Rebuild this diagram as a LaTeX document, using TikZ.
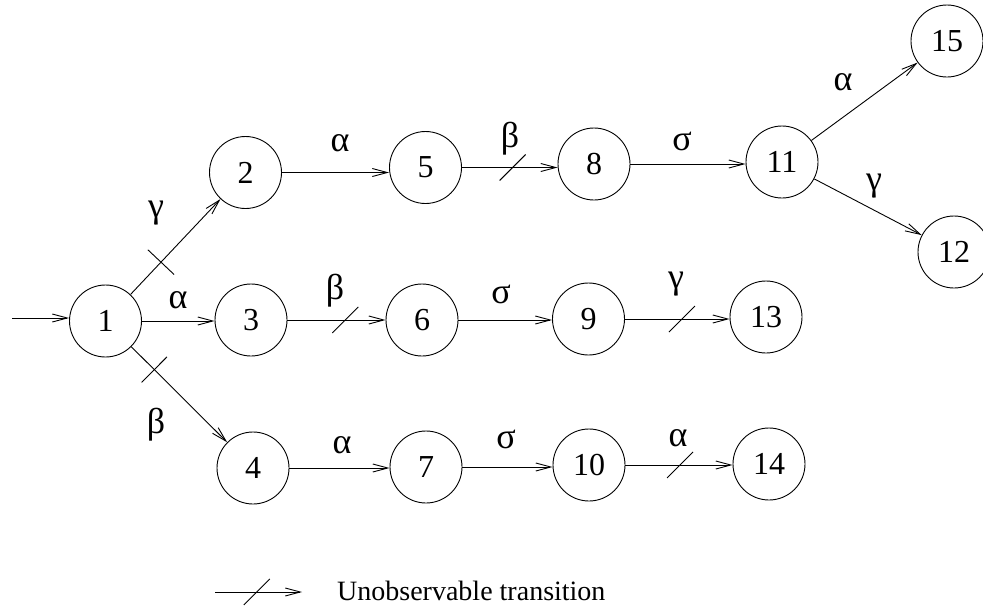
\documentclass[tikz,border=0pt]{standalone}
\usepackage{fontspec}
\setmainfont{Liberation Serif}
\usetikzlibrary{arrows.meta,decorations.markings}
\begin{document}
\begin{tikzpicture}[x=1pt,y=-1pt,
  state/.style={draw, circle, minimum size=72pt, inner sep=0pt, line width=0.9pt, font=\fontsize{32}{36}\selectfont},
  lbl/.style={inner sep=0pt, font=\fontsize{36}{40}\selectfont},
  trans/.style={draw, line width=0.9pt, -{Straight Barb[length=15pt,width=8pt]}},
  unobs/.style={postaction={decorate}, decoration={markings, mark=at position #1 with {\draw[-,line width=0.9pt] (-13pt,-13pt) -- (13pt,13pt);}}},
  unobsp/.style={postaction={decorate}, decoration={markings, mark=at position #1 with {\draw[-,line width=0.9pt] (0pt,-18pt) -- (0pt,18pt);}}}
]
\useasboundingbox (0,0) rectangle (983,611);

% states
\node[state] (n1) at (105.5,321) {1};
\node[state] (n2) at (245.5,172.5) {2};
\node[state] (n3) at (251,320) {3};
\node[state] (n4) at (253,468) {4};
\node[state] (n5) at (425.5,167.5) {5};
\node[state] (n6) at (422,320) {6};
\node[state] (n7) at (426,467) {7};
\node[state] (n8) at (594,164) {8};
\node[state] (n9) at (588.5,319) {9};
\node[state] (n10) at (589,465) {10};
\node[state] (n11) at (782,162) {11};
\node[state] (n12) at (954,252) {12};
\node[state] (n13) at (766,317) {13};
\node[state] (n14) at (769,464) {14};
\node[state] (n15) at (947,41) {15};

% initial arrow
\coordinate (init) at (12,318);
\draw[trans] (init) -- (n1.west |- init);

% transitions
\draw[trans, unobsp=0.34] (n1) -- (n2);
\draw[trans] (n1.east) -- (n3.west |- n1.east);
\draw[trans, unobsp=0.24] (n1) -- (n4);
\draw[trans] (n2.east) -- (n5.west |- n2.east);
\draw[trans, unobs=0.59] (n3.east) -- (n6.west |- n3.east);
\draw[trans] (n4.east) -- (n7.west |- n4.east);
\draw[trans, unobs=0.53] (n5.east) -- (n8.west |- n5.east);
\draw[trans] (n6.east) -- (n9.west |- n6.east);
\draw[trans] (n7.east) -- (n10.west |- n7.east);
\draw[trans] (n8.east) -- (n11.west |- n8.east);
\draw[trans, unobs=0.545] (n9.east) -- (n13.west |- n9.east);
\draw[trans, unobs=0.51] (n10.east) -- (n14.west |- n10.east);
\draw[trans] (n11) -- (n15);
\draw[trans] (n11) -- (n12);

% labels
\node[lbl] (l12) at (156,213) {γ};
\node[lbl] (l13) at (178,300) {α};
\node[lbl] (l14) at (156,425) {β};
\node[lbl] (l25) at (340,143) {α};
\node[lbl] (l58) at (510,139) {β};
\node[lbl] (l811) at (682,141) {σ};
\node[lbl] (l1115) at (843,82) {α};
\node[lbl] (l1112) at (874,186) {γ};
\node[lbl] (l36) at (335,291) {β};
\node[lbl] (l69) at (501,294) {σ};
\node[lbl] (l913) at (676,284) {γ};
\node[lbl] (l47) at (342,445) {α};
\node[lbl] (l710) at (506,439) {σ};
\node[lbl] (l1014) at (678,438) {α};

% legend
\coordinate (legA) at (215,592);
\coordinate (legB) at (302,592);
\draw[trans, unobs=0.48] (legA) -- (legB);
\node[anchor=west, inner sep=0pt, font=\fontsize{28}{32}\selectfont] (legtext) at (337,591) {Unobservable transition};
\end{tikzpicture}
\end{document}
